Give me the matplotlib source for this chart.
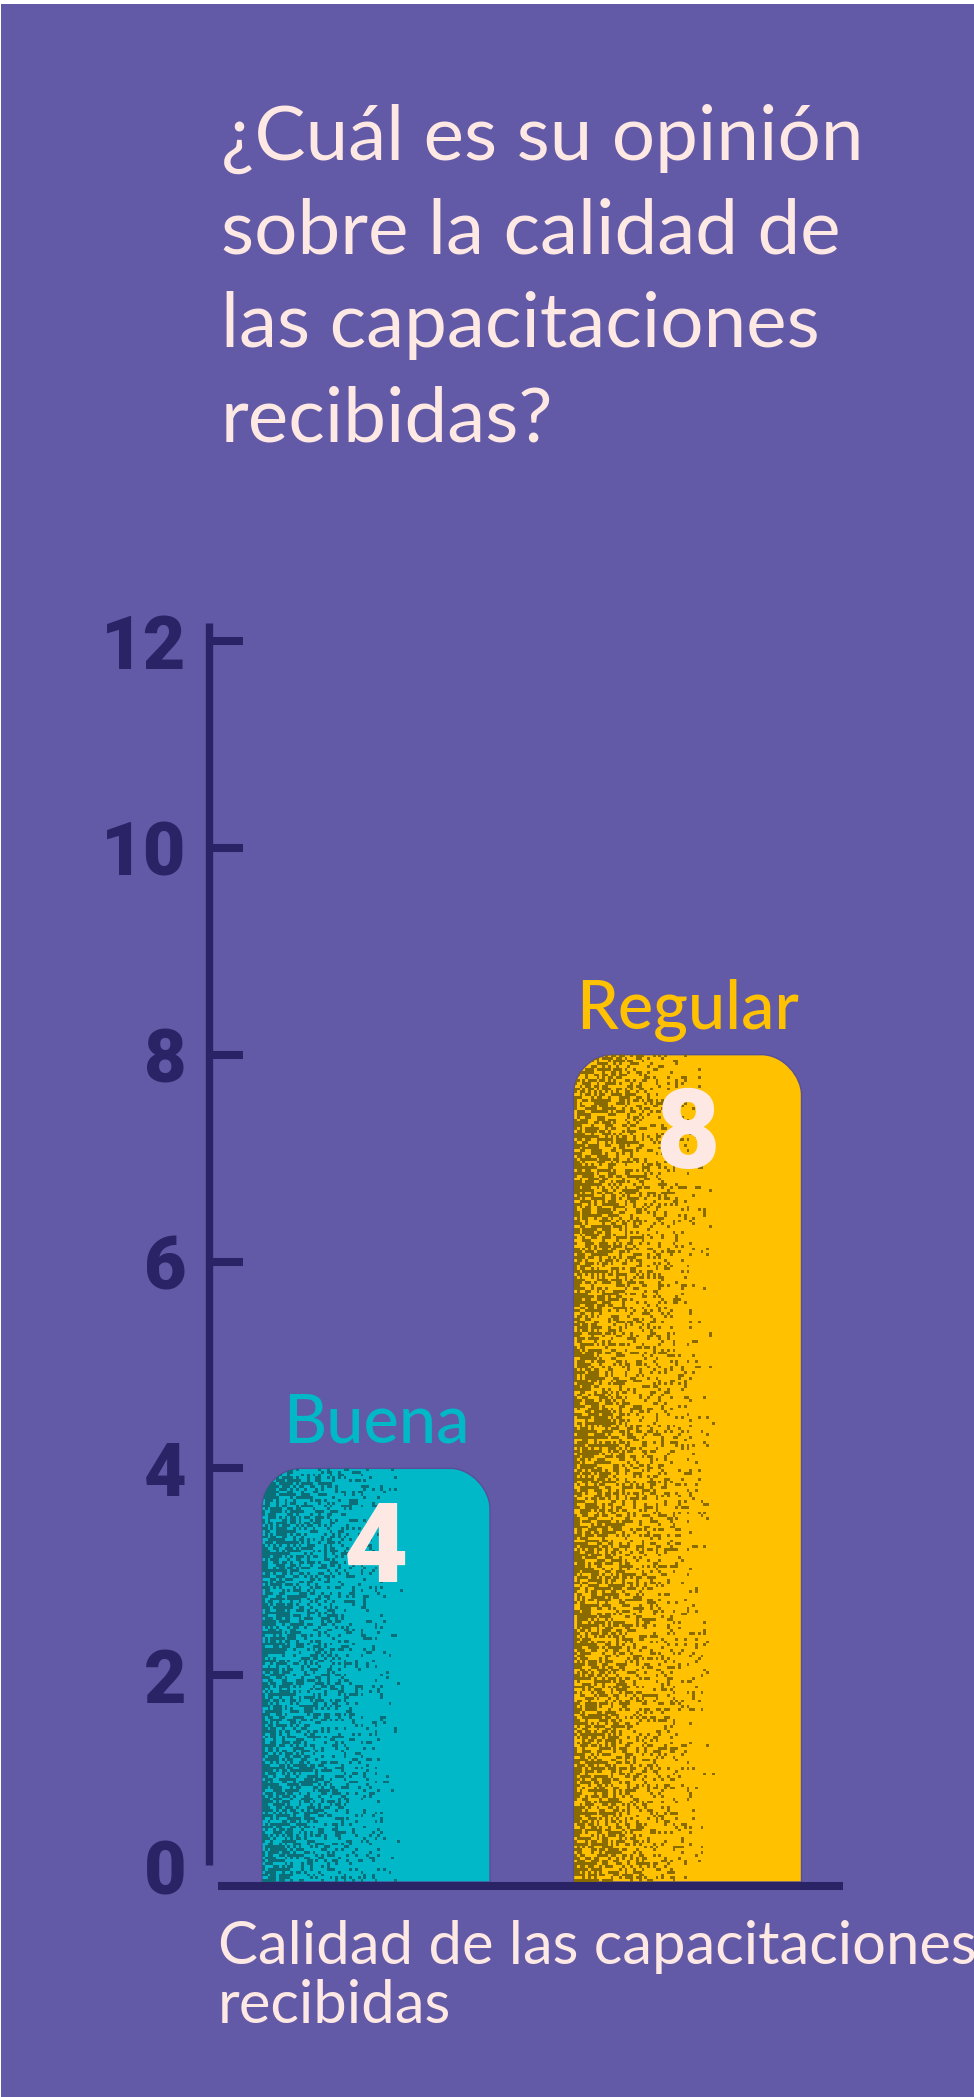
import numpy as np
import matplotlib
matplotlib.use('Agg')
import matplotlib.pyplot as plt
from matplotlib.path import Path
from matplotlib.patches import PathPatch, Rectangle
from matplotlib.transforms import ScaledTranslation

# ---------------- data ----------------
categories = ['Buena', 'Regular']
values = [4, 8]
yticks = [0, 2, 4, 6, 8, 10, 12]
ytick_labels = ['0', '2', '4', '6', '8', '10', '12']
title_lines = ['¿Cuál es su opinión', 'sobre la calidad de',
               'las capacitaciones', 'recibidas?']
xlabel_lines = ['Calidad de las capacitaciones', 'recibidas']

# ---------------- style ----------------
BG = '#625aa6'
DARK = '#2a2466'
TEXT = '#fde8e4'
bar_colors = ['#00b8c7', '#ffc100']
noise_colors = ['#0b6e78', '#8a6b00']
label_colors = ['#00b8c7', '#ffc100']
HEAVY = ['Roboto', 'DejaVu Sans']

W, H = 974, 2097
fig = plt.figure(figsize=(W / 100, H / 100), dpi=100, facecolor='white')
fig.patches.append(Rectangle((1 / W, 0), 1, (H - 4) / H, transform=fig.transFigure,
                             facecolor=BG, edgecolor='none', zorder=-10))

# axes geometry (pixels)
px_unit_y = (1882 - 641) / 12.0
px_unit_x = 311.5
ylo, yhi = -0.5, 12.5
ax_bottom_px = 1882 + (0 - ylo) * px_unit_y
ax = fig.add_axes([209 / W, (H - ax_bottom_px) / H, (W - 209) / W,
                   (yhi - ylo) * px_unit_y / H])
ax.set_facecolor('none')
xlo = -(376 - 209) / px_unit_x
xhi = 1 + (W - 687.5) / px_unit_x

bar_w = 228 / px_unit_x
rx = 40 / px_unit_x
ry = 40 / px_unit_y
k = 0.5523


def rounded_top(x0, x1, y0, y1):
    verts = [(x0, y0), (x0, y1 - ry),
             (x0, y1 - ry + k * ry), (x0 + rx - k * rx, y1), (x0 + rx, y1),
             (x1 - rx, y1),
             (x1 - rx + k * rx, y1), (x1, y1 - k * ry), (x1, y1 - ry),
             (x1, y0), (x0, y0)]
    codes = [Path.MOVETO, Path.LINETO,
             Path.CURVE4, Path.CURVE4, Path.CURVE4,
             Path.LINETO,
             Path.CURVE4, Path.CURVE4, Path.CURVE4,
             Path.LINETO, Path.CLOSEPOLY]
    return Path(verts, codes)


rng = np.random.default_rng(11)
for i, (cat, v) in enumerate(zip(categories, values)):
    x0, x1 = i - bar_w / 2, i + bar_w / 2
    patch = PathPatch(rounded_top(x0, x1, 0, v), facecolor=bar_colors[i],
                      edgecolor='#574f98', lw=1.0, zorder=2)
    ax.add_patch(patch)
    # speckle texture
    cell = 2.8
    ncols = int(228 / cell)
    nrows = int(v * px_unit_y / cell)
    u = (np.arange(ncols) + 0.5) / ncols
    p = 0.68 * np.clip(1 - u / 0.62, 0, 1) ** 1.1
    mask = rng.random((nrows, ncols)) < p[None, :]
    rgba = np.zeros((nrows, ncols, 4))
    c = matplotlib.colors.to_rgb(noise_colors[i])
    rgba[..., 0], rgba[..., 1], rgba[..., 2] = c
    rgba[..., 3] = mask.astype(float)
    im = ax.imshow(rgba, extent=(x0, x1, 0, v), origin='lower',
                   interpolation='nearest', aspect='auto', zorder=2.1)
    im.set_clip_path(patch)
    # value label
    ax.text(i, v - 1.1, str(v), ha='center', va='baseline', fontsize=80,
            family=HEAVY, fontweight='black', color=TEXT, zorder=4)
    # category label
    ax.text(i, v + 0.25, cat, ha='center', va='baseline', fontsize=48,
            family='Lato', fontweight='medium', color=label_colors[i], zorder=4)

ax.set_xlim(xlo, xhi)
ax.set_ylim(ylo, yhi)

for s in ['top', 'right']:
    ax.spines[s].set_visible(False)
ax.spines['left'].set_bounds(0.16, 12.17)
ax.spines['left'].set_linewidth(5.3)
ax.spines['left'].set_color(DARK)
ax.spines['left'].set_capstyle('butt')
ax.spines['bottom'].set_position(('data', -0.04))
ax.spines['bottom'].set_bounds(-0.507, 1.499)
ax.spines['bottom'].set_linewidth(5.8)
ax.spines['bottom'].set_color(DARK)
ax.spines['bottom'].set_capstyle('butt')
ax.spines['bottom'].set_zorder(3)

ax.set_yticks(yticks)
ax.set_yticklabels(ytick_labels, family=HEAVY, fontweight='black',
                   fontsize=53, color=DARK)
ax.tick_params(axis='y', direction='in', length=24.5, width=5.8, color=DARK, pad=16)
ax.tick_params(axis='x', bottom=False, labelbottom=False)
ax.yaxis.get_major_ticks()[0].tick1line.set_visible(False)
lab0 = ax.yaxis.get_major_ticks()[0].label1
lab0.set_transform(lab0.get_transform() + ScaledTranslation(0, 11.5 / 72, fig.dpi_scale_trans))

# title
for line, base in zip(title_lines, [160, 253, 347, 442]):
    fig.text(221 / W, 1 - base / H, line, fontsize=55, family='Lato',
             fontweight='normal', color=TEXT, va='baseline', ha='left')

# x label
for line, base in zip(xlabel_lines, [1964, 2023]):
    fig.text(218 / W, 1 - base / H, line, fontsize=43, family='Lato',
             fontweight='normal', color=TEXT, va='baseline', ha='left')

fig.savefig('out.png', dpi=100, facecolor=fig.get_facecolor())
